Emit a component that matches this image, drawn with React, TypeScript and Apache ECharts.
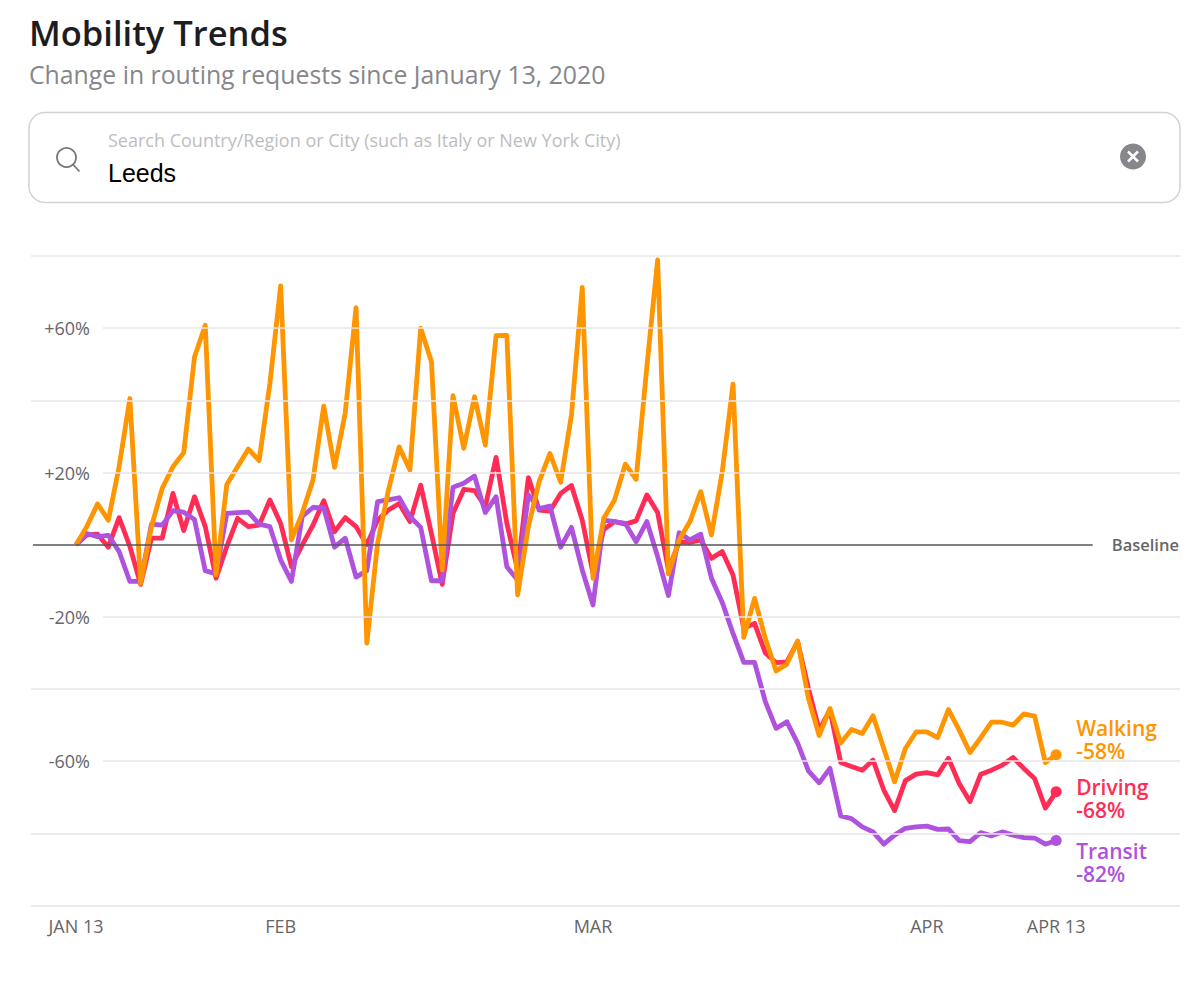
import React, { useEffect, useRef } from "react";
import * as echarts from "echarts";

const FONT = "'Open Sans', 'Noto Sans', sans-serif";

const walking = [0, 5, 11.3, 6.8, 21.6, 40.5, -10.7, 5, 15.6, 21.6, 25.5, 52, 60.8, -8.4, 16.7, 21.6, 26.5, 23.3, 44.7, 71.7, 1.3, 8.7, 17.9, 38.4, 21.4, 36.6, 65.7, -27.3, 0.4, 15, 27.1, 20.7, 60, 50.7, -7, 41.3, 26.7, 41, 27.6, 57.9, 58, -13.9, 5, 17.5, 25.3, 17.3, 36, 71.3, -9.3, 7.3, 12.4, 22.3, 18.1, 49.3, 78.9, -8.1, 1.3, 6.4, 14.7, 2.7, 20.2, 44.5, -25.7, -14.9, -26, -35, -33.1, -26.7, -42.6, -52.9, -45.4, -55, -51.2, -52.3, -47.4, -56.5, -65.7, -56.5, -51.9, -51.9, -53.5, -45.7, -51.4, -57.6, -53.5, -49.2, -49.2, -50, -46.9, -47.5, -60.4, -58.2];
const driving = [0, 2.7, 2.9, -0.7, 7.5, -0.5, -11, 1.8, 1.8, 14.2, 3.9, 13.3, 5, -9.3, -0.5, 7.3, 5, 5.4, 12.4, 5.9, -6.1, -0.1, 5.4, 12.2, 3.6, 7.5, 5, 0, 6.8, 9.6, 11.4, 6.4, 16.5, 3.1, -11, 8.7, 15.3, 15, 10.5, 24.2, 5.9, -7, 18.6, 9.6, 9.3, 14.2, 16.4, 6.8, -7.9, 4.2, 6.4, 5.7, 6.6, 13.8, 8.9, -7, 0.8, 0.6, 1.3, -3.8, -1.9, -8.4, -23.2, -21.8, -30, -32.7, -32.5, -26.9, -39.8, -51.4, -45.8, -60.4, -61.5, -62.5, -59.7, -68, -73.7, -65.4, -63.6, -63.2, -63.8, -59.2, -66.2, -71.2, -63.6, -62.5, -61.1, -59, -62, -64.8, -73, -68.5];
const transit = [0, 3.1, 2.2, 2.6, -1.9, -10.2, -10.2, 5.7, 5.4, 9.4, 9, 7, -7.2, -8.1, 8.7, 8.9, 9, 5.7, 5, -4.2, -10.2, 7.8, 10.3, 10.2, -0.7, 1.8, -9, -7.2, 11.9, 12.4, 13, 7.8, 4.8, -10, -10, 15.9, 17, 19, 8.9, 13.3, -6.1, -9.8, 13.8, 10, 10.7, -0.7, 4.8, -7, -16.7, 6.8, 6.4, 5.9, 0.8, 6.4, -3.3, -14.1, 3.3, 1.3, 2.9, -9.3, -16, -24.6, -32.6, -32.6, -43.5, -50.9, -49.1, -55, -62.7, -66, -62, -75.2, -75.9, -78.2, -79.6, -83, -80.5, -78.6, -78.2, -78, -78.9, -78.8, -82, -82.3, -79.8, -80.7, -79.6, -80.5, -81.2, -81.3, -83, -82];

const tickDays = [0, 19, 48, 79, 91];
const tickNames = ["JAN 13", "FEB", "MAR", "APR", "APR 13"];
const labelledTicks = [60, 20, -20, -60];
const plainTicks = [80, 40, -40, -80, -100];

const ORANGE = "#ff9500";
const RED = "#ff2d55";
const PURPLE = "#af52de";

const xMin = -4.18;
const xMax = 102.5;
const labelledStart = 2.5;
const baselineStart = -4;
const baselineEnd = 94.4;

function lineSeries(name: string, values: number[], color: string, pct: string, offsetY: number) {
  return {
    name,
    type: "line",
    symbol: "none",
    showSymbol: true,
    silent: true,
    z: 3,
    lineStyle: { color, width: 4.8, join: "round" },
    itemStyle: { color },
    data: values.map((v, i) =>
      i === values.length - 1
        ? { value: [i, v], symbol: "circle", symbolSize: 11 }
        : { value: [i, v] }
    ),
    endLabel: {
      show: true,
      formatter: () => `${name}\n${pct}`,
      color,
      fontFamily: FONT,
      fontSize: 21,
      fontWeight: 600,
      lineHeight: 23,
      align: "left",
      verticalAlign: "middle",
      distance: 0,
      offset: [20, offsetY],
    },
  };
}

export default function App() {
  const ref = useRef<HTMLDivElement>(null);
  useEffect(() => {
    document.body.style.margin = "0";
    const chart = echarts.init(ref.current!, undefined, { renderer: "svg" });
    const gridLine = { color: "#e6e6ea", width: 1.5, type: "solid" };
    chart.setOption({
      animation: false,
      backgroundColor: "#ffffff",
      grid: { left: 31, right: 20, top: 256, bottom: 99.5 },
      xAxis: {
        type: "value",
        min: xMin,
        max: xMax,
        splitLine: { show: false },
        axisLine: { show: false },
        axisTick: { show: false },
        axisLabel: {
          customValues: tickDays,
          formatter: (v: number) => tickNames[tickDays.indexOf(v)] ?? "",
          color: "#666668",
          fontFamily: FONT,
          fontSize: 18,
          margin: 11,
          hideOverlap: false,
        },
      },
      yAxis: {
        type: "value",
        min: -100,
        max: 80,
        interval: 20,
        splitLine: { show: false },
        axisLine: { show: false },
        axisTick: { show: false },
        axisLabel: {
          margin: -59,
          color: "#666668",
          fontFamily: FONT,
          fontSize: 18,
          formatter: (v: number) =>
            labelledTicks.includes(v) ? `${v > 0 ? "+" : ""}${v}%` : "",
        },
      },
      series: [
        {
          name: "grid",
          type: "line",
          data: [],
          silent: true,
          z: 1,
          markLine: {
            silent: true,
            symbol: "none",
            animation: false,
            label: { show: false },
            lineStyle: gridLine,
            data: [
              ...plainTicks.map((t) => [
                { coord: [xMin, t] },
                { coord: [xMax, t] },
              ]),
              ...labelledTicks.map((t) => [
                { coord: [labelledStart, t] },
                { coord: [xMax, t] },
              ]),
            ],
          },
        },
        {
          name: "baseline",
          type: "line",
          data: [],
          silent: true,
          z: 2,
          markLine: {
            silent: true,
            symbol: "none",
            animation: false,
            lineStyle: { color: "#56565a", width: 1.5, type: "solid" },
            label: {
              show: true,
              position: "end",
              formatter: "Baseline",
              color: "#666668",
              fontFamily: FONT,
              fontSize: 16.5,
              fontWeight: 600,
              distance: 19,
            },
            data: [[{ coord: [baselineStart, 0] }, { coord: [baselineEnd, 0] }]],
          },
        },
        lineSeries("Driving", driving, RED, "-68%", 7),
        lineSeries("Transit", transit, PURPLE, "-82%", 22),
        lineSeries("Walking", walking, ORANGE, "-58%", -15),
      ],
      graphic: [
        { type: "text", x: 29, y: 32, style: { text: "Mobility Trends", fill: "#1d1d1f", font: `600 34.5px ${FONT}`, verticalAlign: "middle" } },
        { type: "text", x: 29, y: 74, style: { text: "Change in routing requests since January 13, 2020", fill: "#86868b", font: `24.8px ${FONT}`, verticalAlign: "middle" } },
        { type: "rect", shape: { x: 29, y: 112.5, width: 1151, height: 90, r: 16 }, style: { fill: "#ffffff", stroke: "#d2d2d7", lineWidth: 1.5 } },
        { type: "circle", shape: { cx: 66.5, cy: 157.5, r: 9.5 }, style: { fill: "none", stroke: "#77777b", lineWidth: 1.8 } },
        { type: "line", shape: { x1: 73, y1: 164.5, x2: 79.5, y2: 171.5 }, style: { stroke: "#77777b", lineWidth: 1.8 } },
        { type: "text", x: 108, y: 140, style: { text: "Search Country/Region or City (such as Italy or New York City)", fill: "#bdbdc1", font: `18px ${FONT}`, verticalAlign: "middle" } },
        { type: "text", x: 108, y: 173, style: { text: "Leeds", fill: "#000000", font: "25px 'Liberation Sans', sans-serif", verticalAlign: "middle" } },
        { type: "circle", shape: { cx: 1133, cy: 156.5, r: 13 }, style: { fill: "#86868b" } },
        { type: "line", shape: { x1: 1128, y1: 151.5, x2: 1138, y2: 161.5 }, style: { stroke: "#ffffff", lineWidth: 2.5 } },
        { type: "line", shape: { x1: 1138, y1: 151.5, x2: 1128, y2: 161.5 }, style: { stroke: "#ffffff", lineWidth: 2.5 } },
      ],
    });
    return () => chart.dispose();
  }, []);
  return <div ref={ref} style={{ width: 1200, height: 1005 }} />;
}
